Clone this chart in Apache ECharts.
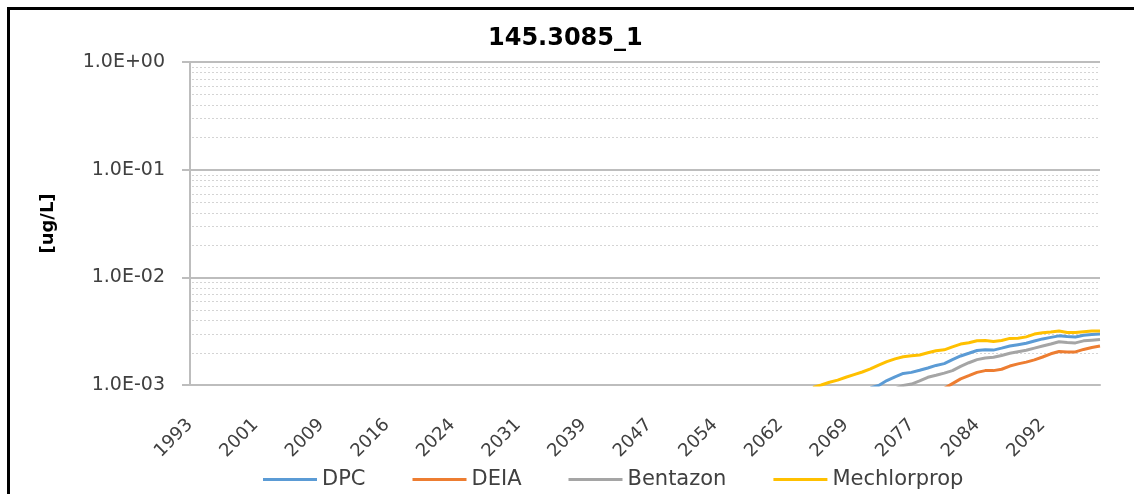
<!DOCTYPE html>
<html>
<head>
<meta charset="utf-8">
<script src="https://cdn.jsdelivr.net/npm/echarts@6/dist/echarts.min.js"></script>
<style>
  html, body { margin: 0; padding: 0; background: #fff; }
  #chart { width: 1134px; height: 494px; }
</style>
</head>
<body>
<div id="chart"></div>
<script>
// Axis labels shown every STEPS_PER_LABEL time steps
const tickLabels = ['1993', '2001', '2009', '2016', '2024', '2031', '2039',
                    '2047', '2054', '2062', '2069', '2077', '2084', '2092'];
const STEPS_PER_LABEL = 8;
const N_STEPS = 112;

// Concentrations [ug/L]; each list begins at its start step
const dpcStart = 83;
const dpc = [0.00094, 0.00099, 0.00110, 0.00119, 0.00128, 0.00131, 0.00137, 0.00144,
             0.00152, 0.00158, 0.00172, 0.00186, 0.00197, 0.00209, 0.00212, 0.00211,
             0.00220, 0.00230, 0.00237, 0.00244, 0.00256, 0.00268, 0.00277, 0.00286,
             0.00282, 0.00279, 0.00290, 0.00295, 0.00297];

const deiaStart = 92;
const deia = [0.00093, 0.00103, 0.00114, 0.00122, 0.00131, 0.00136, 0.00136, 0.00140,
              0.00150, 0.00157, 0.00163, 0.00171, 0.00182, 0.00195, 0.00205, 0.00203,
              0.00203, 0.00214, 0.00223, 0.00230];

const bentazonStart = 86;
const bentazon = [0.00092, 0.00099, 0.00102, 0.00109, 0.00118, 0.00123, 0.00129, 0.00136,
                  0.00149, 0.00161, 0.00172, 0.00178, 0.00181, 0.00188, 0.00197, 0.00204,
                  0.00210, 0.00220, 0.00230, 0.00240, 0.00252, 0.00248, 0.00246, 0.00257,
                  0.00261, 0.00265];

const mechlorpropStart = 76;
const mechlorprop = [0.00095, 0.00100, 0.00106, 0.00111, 0.00118, 0.00125, 0.00132, 0.00141,
                     0.00153, 0.00165, 0.00175, 0.00183, 0.00187, 0.00190, 0.00199, 0.00208,
                     0.00212, 0.00226, 0.00240, 0.00247, 0.00258, 0.00259, 0.00253, 0.00259,
                     0.00271, 0.00272, 0.00280, 0.00297, 0.00306, 0.00310, 0.00318, 0.00307,
                     0.00307, 0.00312, 0.00317, 0.00318];

const FONT = 'DejaVu Sans';
const TEXT = '#404040';
const GRID_MAJOR = '#bdbdbd';
const GRID_MINOR = '#d4d4d4';

// category names: the year label on every STEPS_PER_LABEL-th step
const categories = [];
for (let i = 0; i < N_STEPS; i++) {
  categories.push(i % STEPS_PER_LABEL === 0 ? (tickLabels[i / STEPS_PER_LABEL] || '') : '');
}

function pad(start, values) {
  const out = new Array(N_STEPS).fill(null);
  values.forEach((v, k) => { out[start + k] = v; });
  return out;
}

// minor grid values 2..9 within each decade
const minorGrid = [];
[0.001, 0.01, 0.1].forEach(d => {
  for (let m = 2; m <= 9; m++) minorGrid.push(+(d * m).toPrecision(3));
});

function sci(v) {
  const e = Math.round(Math.log10(v));
  return '1.0E' + (e < 0 ? '-' : '+') + String(Math.abs(e)).padStart(2, '0');
}

const chart = echarts.init(document.getElementById('chart'), null, { renderer: 'canvas' });

const lineSeries = (name, color, start, values) => ({
  name, type: 'line', data: pad(start, values), symbol: 'none',
  lineStyle: { color, width: 3 }, itemStyle: { color },
  z: 3, clip: true
});

const frame = {
  type: 'rect', left: 6, top: 6, silent: true, z: 10,
  shape: { x: 0, y: 0, width: 1200, height: 600 },
  style: { fill: 'none', stroke: '#000', lineWidth: 3 }
};

chart.setOption({
  animation: false,
  backgroundColor: '#ffffff',
  graphic: [frame],
  title: {
    text: '145.3085_1',
    left: 483, top: 22,
    textStyle: { fontFamily: FONT, fontWeight: 'bold', fontSize: 24, color: '#000' }
  },
  grid: { left: 190, right: 34, top: 62, bottom: 109, containLabel: false },
  legend: {
    data: ['DPC', 'DEIA', 'Bentazon', 'Mechlorprop'],
    left: 258, top: 464,
    icon: 'rect',
    itemWidth: 54, itemHeight: 3, itemGap: 47,
    textStyle: { fontFamily: FONT, fontSize: 21, color: TEXT }
  },
  xAxis: {
    type: 'category',
    data: categories,
    boundaryGap: false,
    axisLine: { show: true, lineStyle: { color: GRID_MAJOR, width: 2 } },
    axisTick: { show: false },
    splitLine: { show: false },
    axisLabel: {
      interval: STEPS_PER_LABEL - 1,
      rotate: 45, margin: 37,
      fontFamily: FONT, fontSize: 18, color: TEXT
    }
  },
  yAxis: {
    type: 'log', logBase: 10, min: 0.001, max: 1,
    name: '[ug/L]', nameLocation: 'middle', nameGap: 133,
    nameTextStyle: { fontFamily: FONT, fontWeight: 'bold', fontSize: 18, color: '#000' },
    axisLine: { show: true, lineStyle: { color: GRID_MAJOR, width: 2 } },
    axisTick: { show: true, inside: false, length: 8, lineStyle: { color: GRID_MAJOR, width: 2 } },
    splitLine: { show: true, lineStyle: { color: GRID_MAJOR, width: 2 } },
    axisLabel: {
      margin: 25, formatter: sci,
      fontFamily: FONT, fontSize: 19, color: TEXT
    }
  },
  series: [
    lineSeries('DPC', '#5B9BD5', dpcStart, dpc),
    lineSeries('DEIA', '#ED7D31', deiaStart, deia),
    lineSeries('Bentazon', '#A5A5A5', bentazonStart, bentazon),
    lineSeries('Mechlorprop', '#FFC000', mechlorpropStart, mechlorprop)
  ]
});

// dotted minor grid lines, placed through the log axis scale
const xLeft = chart.convertToPixel({ xAxisIndex: 0 }, 0);
const xRight = chart.convertToPixel({ xAxisIndex: 0 }, N_STEPS - 1);
const minorLines = minorGrid.map(v => {
  const y = Math.round(chart.convertToPixel({ yAxisIndex: 0 }, v)) + 0.5;
  return {
    type: 'line', silent: true, z: 0,
    shape: { x1: xLeft + 2, y1: y, x2: xRight, y2: y },
    style: { stroke: GRID_MINOR, lineWidth: 1, lineDash: [2, 2] }
  };
});
chart.setOption({ graphic: [frame].concat(minorLines) }, { replaceMerge: ['graphic'] });
</script>
</body>
</html>
